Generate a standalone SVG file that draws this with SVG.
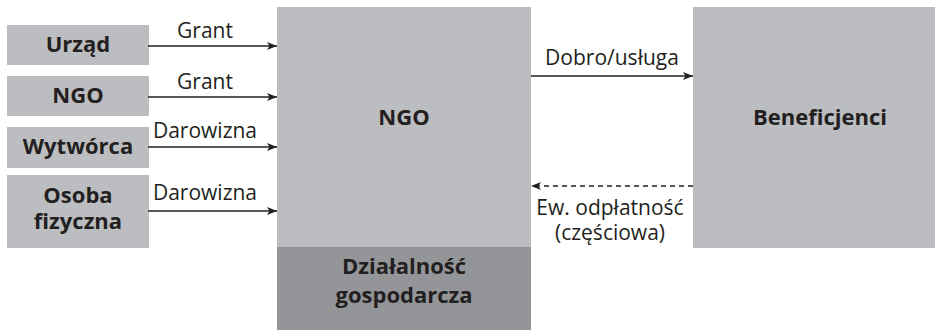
<svg xmlns="http://www.w3.org/2000/svg" width="940" height="335" viewBox="0 0 940 335">
<style>
.box{fill:#bcbdc0}
.dark{fill:#939598}
.b{font-family:"Open Sans","Liberation Sans",sans-serif;font-weight:bold;font-size:22px;fill:#231f20;text-anchor:middle}
.r{font-family:"Open Sans","Liberation Sans",sans-serif;font-size:21px;fill:#231f20;text-anchor:middle}
.ln{stroke:#231f20;stroke-width:1.3;fill:none}
</style>
<defs>
<marker id="ah" viewBox="0 0 10 8" refX="10" refY="4" markerWidth="10" markerHeight="8" markerUnits="userSpaceOnUse" orient="auto">
<path d="M0,0 L10,4 L0,8 L2.5,4 Z" fill="#231f20"/>
</marker>
</defs>
<rect width="940" height="335" fill="#ffffff"/>
<g id="urzad"><rect class="box" x="7" y="25" width="142" height="40"/><text class="b" x="78" y="52">Urząd</text></g>
<g id="ngo-src"><rect class="box" x="7" y="76" width="142" height="40"/><text class="b" x="78" y="103">NGO</text></g>
<g id="wytworca"><rect class="box" x="7" y="127" width="142" height="41"/><text class="b" x="78" y="154">Wytwórca</text></g>
<g id="osoba"><rect class="box" x="7" y="175" width="142" height="73"/><text class="b" x="78" y="203">Osoba</text><text class="b" x="78" y="229">fizyczna</text></g>
<g id="ngo"><rect class="box" x="277" y="7" width="254" height="241"/><text class="b" x="404" y="125">NGO</text></g>
<g id="dzialalnosc"><rect class="dark" x="277" y="247" width="254" height="83"/><text class="b" x="404" y="274">Działalność</text><text class="b" x="404" y="303">gospodarcza</text></g>
<g id="beneficjenci"><rect class="box" x="693" y="7" width="242" height="241"/><text class="b" x="820" y="125">Beneficjenci</text></g>
<g id="connectors">
<line class="ln" x1="148" y1="46" x2="277" y2="46" marker-end="url(#ah)"/>
<line class="ln" x1="148" y1="97" x2="277" y2="97" marker-end="url(#ah)"/>
<line class="ln" x1="148" y1="147" x2="277" y2="147" marker-end="url(#ah)"/>
<line class="ln" x1="148" y1="211" x2="277" y2="211" marker-end="url(#ah)"/>
<line class="ln" x1="531" y1="76" x2="693" y2="76" marker-end="url(#ah)"/>
<line class="ln" x1="693" y1="186" x2="531" y2="186" stroke-dasharray="5,4" marker-end="url(#ah)"/>
<text class="r" x="205" y="38">Grant</text>
<text class="r" x="205" y="89">Grant</text>
<text class="r" x="205" y="138">Darowizna</text>
<text class="r" x="205" y="200">Darowizna</text>
<text class="r" x="612" y="65">Dobro/usługa</text>
<text class="r" x="610" y="215">Ew. odpłatność</text>
<text class="r" x="610" y="240">(częściowa)</text>
</g>
</svg>
